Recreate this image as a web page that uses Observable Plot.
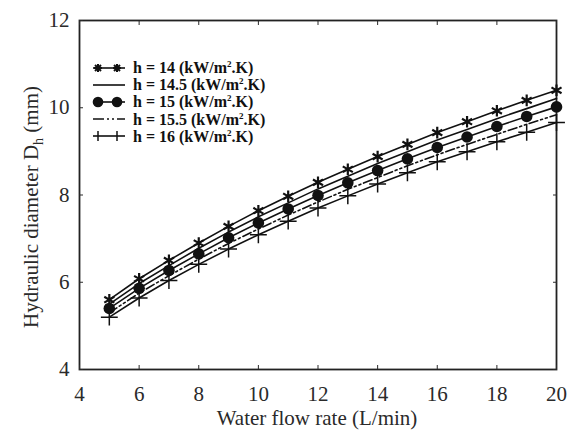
<!DOCTYPE html>
<html>
<head>
<meta charset="utf-8">
<script src="https://cdn.jsdelivr.net/npm/d3@7"></script>
<script src="https://cdn.jsdelivr.net/npm/@observablehq/plot@0.6"></script>
<style>
  html, body { margin: 0; padding: 0; background: #fff; }
  #wrap { position: relative; width: 569px; height: 432px; }
  #legend { position: absolute; left: 92px; top: 59px; font-family: "Liberation Serif", serif; font-weight: bold; font-size: 16px; line-height: 17px; color: #111; }
  #legend .row { display: flex; align-items: center; height: 17.2px; }
  #legend svg { margin-right: 7px; }
  #legend sup { font-size: 9px; vertical-align: 6px; line-height: 0; }
</style>
</head>
<body>
<div id="wrap"><div id="chart"></div><div id="legend"></div></div>
<script>
const flow = [5, 6, 7, 8, 9, 10, 11, 12, 13, 14, 15, 16, 17, 18, 19, 20];
const h14   = [5.60, 6.08, 6.50, 6.90, 7.28, 7.64, 7.97, 8.29, 8.59, 8.88, 9.16, 9.43, 9.68, 9.93, 10.17, 10.40];
const h14_5 = [5.50, 5.97, 6.38, 6.78, 7.15, 7.50, 7.82, 8.14, 8.43, 8.72, 8.99, 9.26, 9.50, 9.75, 9.98, 10.21];
const h15   = [5.40, 5.86, 6.27, 6.65, 7.02, 7.36, 7.68, 7.99, 8.28, 8.56, 8.83, 9.09, 9.33, 9.57, 9.80, 10.02];
const h15_5 = [5.30, 5.75, 6.15, 6.53, 6.89, 7.22, 7.54, 7.84, 8.13, 8.40, 8.67, 8.92, 9.16, 9.39, 9.62, 9.84];
const h16   = [5.20, 5.64, 6.04, 6.41, 6.76, 7.09, 7.40, 7.70, 7.98, 8.25, 8.51, 8.76, 8.99, 9.22, 9.44, 9.66];
const seriesLabels = ["h = 14", "h = 14.5", "h = 15", "h = 15.5", "h = 16"];
const unitText = "(kW/m2.K)";
const xTicks = [4, 6, 8, 10, 12, 14, 16, 18, 20];
const yTicks = [4, 6, 8, 10, 12];
const xTitle = "Water flow rate (L/min)";

const series = [h14, h14_5, h15, h15_5, h16];
const data = series.flatMap((vals, i) => vals.map((v, j) => ({x: flow[j], y: v, s: seriesLabels[i]})));
const sel = k => data.filter(d => d.s === seriesLabels[k]);

const font = "Liberation Serif, Times New Roman, serif";
const lineW = 1.6;
const textCol = "#2a2a2a";

const chart = Plot.plot({
  width: 569, height: 432,
  marginLeft: 79, marginRight: 13, marginTop: 20, marginBottom: 63,
  style: {fontFamily: font, fontSize: "21px", color: textCol, background: "#fff"},
  x: {domain: [4, 20], ticks: xTicks},
  y: {domain: [4, 12], ticks: yTicks},
  marks: [
    Plot.frame({stroke: "#222", strokeWidth: 1.8}),
    Plot.axisX({anchor: "bottom", ticks: xTicks, tickSize: -4, tickPadding: 21, label: null, fontSize: 21}),
    Plot.axisX({anchor: "top", ticks: xTicks, tickSize: -4, tickFormat: () => "", label: null}),
    Plot.axisY({anchor: "left", ticks: yTicks, tickSize: -4, tickPadding: 14, label: null, fontSize: 21}),
    Plot.axisY({anchor: "right", ticks: yTicks, tickSize: -4, tickFormat: () => "", label: null}),
    Plot.line(sel(0), {x: "x", y: "y", stroke: "#111", strokeWidth: lineW}),
    Plot.line(sel(1), {x: "x", y: "y", stroke: "#111", strokeWidth: lineW}),
    Plot.line(sel(2), {x: "x", y: "y", stroke: "#111", strokeWidth: lineW}),
    Plot.line(sel(3), {x: "x", y: "y", stroke: "#111", strokeWidth: lineW, strokeDasharray: "9,3,2,3,2,3"}),
    Plot.line(sel(4), {x: "x", y: "y", stroke: "#111", strokeWidth: lineW}),
    Plot.dot(sel(0), {x: "x", y: "y", symbol: "asterisk", r: 5.5, stroke: "#111", strokeWidth: 2.2}),
    Plot.dot(sel(2), {x: "x", y: "y", symbol: "circle", r: 5.8, fill: "#111", stroke: "none"}),
    Plot.dot(sel(4), {x: "x", y: "y", symbol: "plus", r: 5.5, stroke: "#111", strokeWidth: 1.5})
  ]
});
document.getElementById("chart").appendChild(chart);

const svg = d3.select(chart);
// x-axis title
svg.append("text")
  .attr("x", 317).attr("y", 425)
  .attr("text-anchor", "middle")
  .attr("font-family", font).attr("font-size", 21).attr("fill", textCol)
  .text(xTitle);
// y-axis label with subscript h
const yl = svg.append("text")
  .attr("transform", "translate(38,328) rotate(-90)")
  .attr("text-anchor", "start")
  .attr("font-family", font)
  .attr("font-size", 21)
  .attr("fill", textCol);
yl.append("tspan").text("Hydraulic diameter D");
yl.append("tspan").attr("font-size", 14).attr("dy", 5).text("h");
yl.append("tspan").attr("dy", -5).text(" (mm)");

// legend
const legend = document.getElementById("legend");
const base = `<line x1="1" y1="8" x2="33" y2="8" stroke="#111" stroke-width="1.6"/>`;
const legendSym = [
  base + [6, 25].map(cx => `<g stroke="#111" stroke-width="2"><line x1="${cx-4}" y1="8" x2="${cx+4}" y2="8"/><line x1="${cx}" y1="4" x2="${cx}" y2="12"/><line x1="${cx-3}" y1="5" x2="${cx+3}" y2="11"/><line x1="${cx-3}" y1="11" x2="${cx+3}" y2="5"/></g>`).join(""),
  base,
  base + `<circle cx="6" cy="8" r="5.3" fill="#111"/><circle cx="25" cy="8" r="5.3" fill="#111"/>`,
  `<line x1="1" y1="8" x2="33" y2="8" stroke="#111" stroke-width="1.6" stroke-dasharray="11,3,2,3,2,3"/>`,
  base + [6, 25].map(cx => `<line x1="${cx}" y1="3" x2="${cx}" y2="13" stroke="#111" stroke-width="1.5"/>`).join("")
];
seriesLabels.forEach((lab, i) => {
  const row = document.createElement("div");
  row.className = "row";
  const u = unitText.replace("m2", "m<sup>2</sup>");
  row.innerHTML = `<svg width="34" height="16">${legendSym[i]}</svg><span>${lab} ${u}</span>`;
  legend.appendChild(row);
});
</script>
</body>
</html>
